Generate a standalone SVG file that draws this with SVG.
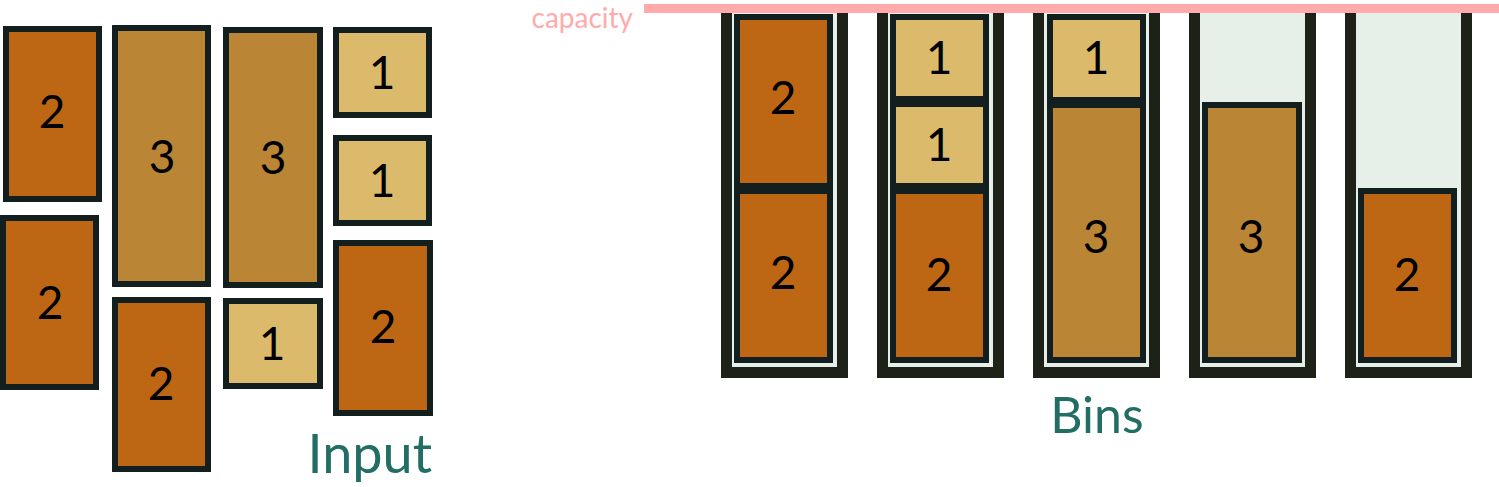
<svg xmlns="http://www.w3.org/2000/svg" width="1499" height="487" viewBox="0 0 1499 487">
<style>
.it{stroke:#131E1E;stroke-width:6}
.o{fill:#BD6714}
.m{fill:#BA8636}
.l{fill:#DBBA6C}
.n{font-family:Lato,"Open Sans",sans-serif;font-size:46px;fill:#000;text-anchor:middle}
.lbl{font-family:Lato,"Open Sans",sans-serif;fill:#226E64}
.wall{fill:none;stroke:#1E2118;stroke-width:11;stroke-linejoin:miter}
.in{fill:#E6F0E8}
</style>
<rect width="1499" height="487" fill="#fff"/>
<g id="input">
<g id="in-a"><rect class="it o" x="6" y="29" width="93" height="170"/><text class="n" x="52" y="128">2</text></g>
<g id="in-b"><rect class="it m" x="115" y="28" width="93" height="256"/><text class="n" x="162" y="173">3</text></g>
<g id="in-c"><rect class="it m" x="226" y="30" width="94" height="255"/><text class="n" x="273" y="174">3</text></g>
<g id="in-d"><rect class="it l" x="336" y="30" width="93" height="85"/><text class="n" x="382" y="89">1</text></g>
<g id="in-e"><rect class="it l" x="336" y="138" width="93" height="85"/><text class="n" x="382" y="197">1</text></g>
<g id="in-f"><rect class="it o" x="3" y="218" width="93" height="169"/><text class="n" x="50" y="319">2</text></g>
<g id="in-g"><rect class="it o" x="115" y="300" width="93" height="169"/><text class="n" x="161" y="400">2</text></g>
<g id="in-h"><rect class="it l" x="226" y="301" width="94" height="85"/><text class="n" x="272" y="360">1</text></g>
<g id="in-i"><rect class="it o" x="336" y="243" width="94" height="170"/><text class="n" x="383" y="343">2</text></g>
<text class="lbl" x="432" y="473" font-size="54" text-anchor="end">Input</text>
</g>
<g id="bins">
<g id="bin1">
<rect class="in" x="732" y="9" width="105" height="359"/>
<path class="wall" d="M726.5,9 V372.5 H842.5 V9"/>
<rect class="it o" x="737" y="17" width="93" height="169"/><text class="n" x="783" y="114">2</text>
<rect class="it o" x="737" y="191" width="93" height="169"/><text class="n" x="783" y="289">2</text>
</g>
<g id="bin2">
<rect class="in" x="888" y="9" width="105" height="359"/>
<path class="wall" d="M882.5,9 V372.5 H998.5 V9"/>
<rect class="it l" x="893" y="17" width="93" height="82"/><text class="n" x="939" y="74">1</text>
<rect class="it l" x="893" y="104" width="93" height="82"/><text class="n" x="939" y="161">1</text>
<rect class="it o" x="893" y="191" width="93" height="169"/><text class="n" x="939" y="291">2</text>
</g>
<g id="bin3">
<rect class="in" x="1044" y="9" width="105" height="359"/>
<path class="wall" d="M1038.5,9 V372.5 H1154.5 V9"/>
<rect class="it l" x="1050" y="17" width="93" height="83"/><text class="n" x="1096" y="74">1</text>
<rect class="it m" x="1050" y="105" width="93" height="255"/><text class="n" x="1096" y="253">3</text>
</g>
<g id="bin4">
<rect class="in" x="1200" y="9" width="105" height="359"/>
<path class="wall" d="M1194.5,9 V372.5 H1310.5 V9"/>
<rect class="it m" x="1205" y="105" width="94" height="255"/><text class="n" x="1251" y="253">3</text>
</g>
<g id="bin5">
<rect class="in" x="1356" y="9" width="105" height="359"/>
<path class="wall" d="M1350.5,9 V372.5 H1466.5 V9"/>
<rect class="it o" x="1361" y="191" width="93" height="169"/><text class="n" x="1407" y="291">2</text>
</g>
<text class="lbl" x="1097" y="433" font-size="50" text-anchor="middle">Bins</text>
</g>
<g id="capacity">
<rect x="644" y="4" width="855" height="9" fill="#FFABAB"/>
<text x="633" y="28" font-family="Lato,'Open Sans',sans-serif" font-size="28" fill="#FFABAB" text-anchor="end">capacity</text>
</g>
</svg>
